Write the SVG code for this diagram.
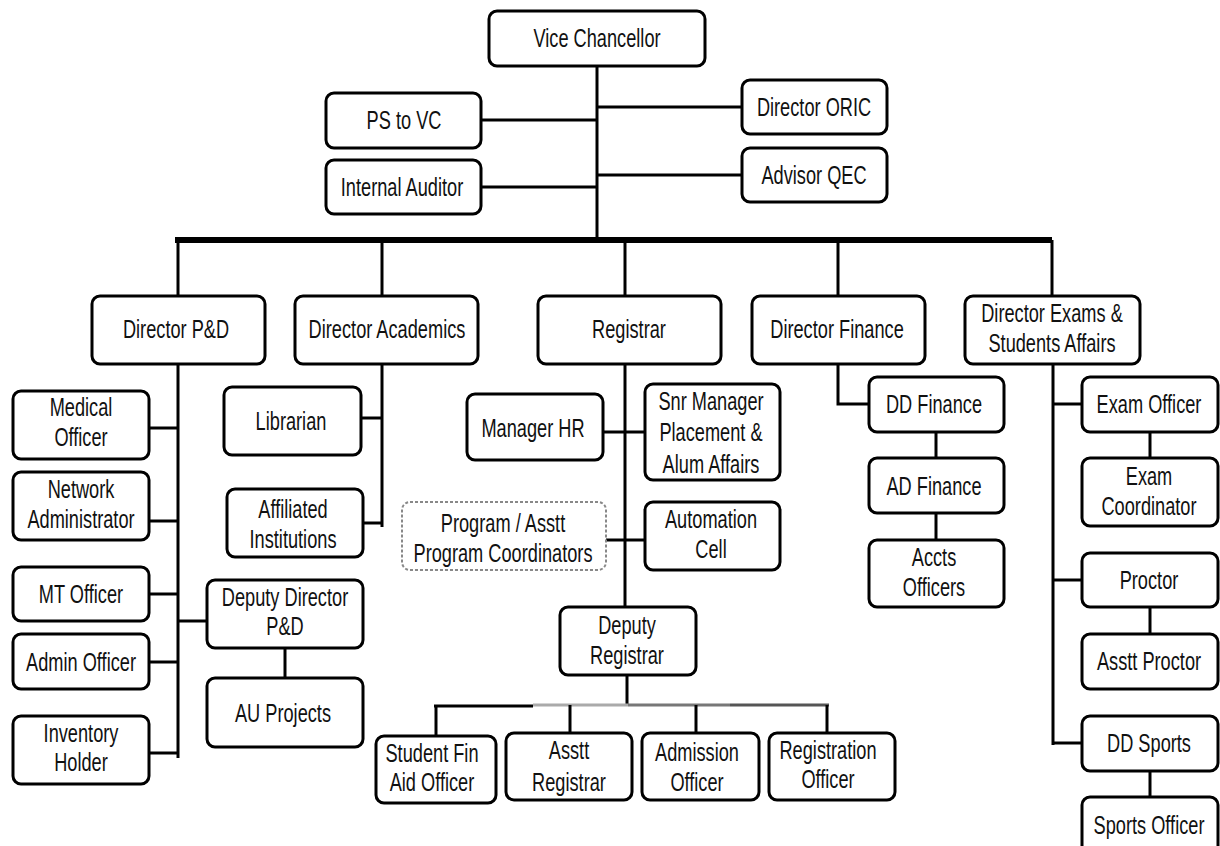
<svg xmlns="http://www.w3.org/2000/svg" width="1220" height="846" viewBox="0 0 1220 846">
<style>
.b{fill:#fff;stroke:#000;stroke-width:3}
.d{fill:#fff;stroke:#888;stroke-width:2;stroke-dasharray:3 2}
text{font-family:"Liberation Sans",Arial,sans-serif;font-size:26px;text-anchor:middle;fill:#111}
.c line,.c path{stroke:#000;stroke-width:3;fill:none}
</style>
<rect width="1220" height="846" fill="#fff"/>
<g class="c" id="connectors">
<line x1="597" y1="66" x2="597" y2="240"/>
<line x1="481" y1="120" x2="597" y2="120"/>
<line x1="481" y1="187" x2="597" y2="187"/>
<line x1="597" y1="107" x2="742" y2="107"/>
<line x1="597" y1="175" x2="742" y2="175"/>
<line x1="175" y1="240" x2="1052" y2="240" style="stroke-width:6"/>
<line x1="178" y1="240" x2="178" y2="296"/>
<line x1="382" y1="240" x2="382" y2="296"/>
<line x1="625" y1="240" x2="625" y2="296"/>
<line x1="838" y1="240" x2="838" y2="296"/>
<line x1="1052" y1="240" x2="1052" y2="296"/>
<line x1="178" y1="364" x2="178" y2="758"/>
<line x1="149" y1="428" x2="178" y2="428"/>
<line x1="149" y1="521" x2="178" y2="521"/>
<line x1="149" y1="594" x2="178" y2="594"/>
<line x1="149" y1="662" x2="178" y2="662"/>
<line x1="149" y1="753" x2="178" y2="753"/>
<line x1="178" y1="621" x2="207" y2="621"/>
<line x1="285" y1="648" x2="285" y2="678"/>
<line x1="382" y1="364" x2="382" y2="527"/>
<line x1="361" y1="418" x2="382" y2="418"/>
<line x1="363" y1="523" x2="382" y2="523"/>
<line x1="625" y1="364" x2="625" y2="607"/>
<line x1="603" y1="432" x2="645" y2="432"/>
<line x1="606" y1="540" x2="645" y2="540"/>
<line x1="627" y1="675" x2="627" y2="705"/>
<line x1="434" y1="706" x2="533" y2="706"/>
<line x1="533" y1="705" x2="628" y2="705" style="stroke:#aaa"/>
<line x1="628" y1="705" x2="730" y2="705" style="stroke:#777"/>
<line x1="730" y1="705" x2="829" y2="705" style="stroke:#555"/>
<line x1="436" y1="705" x2="436" y2="736"/>
<line x1="570" y1="705" x2="570" y2="733"/>
<line x1="696" y1="705" x2="696" y2="733"/>
<line x1="827" y1="705" x2="827" y2="733"/>
<path d="M838 364V404H869"/>
<line x1="936" y1="432" x2="936" y2="458"/>
<line x1="936" y1="513" x2="936" y2="540"/>
<line x1="1053" y1="364" x2="1053" y2="745"/>
<line x1="1053" y1="404" x2="1082" y2="404"/>
<line x1="1053" y1="580" x2="1082" y2="580"/>
<line x1="1053" y1="743" x2="1082" y2="743"/>
<line x1="1150" y1="432" x2="1150" y2="458"/>
<line x1="1150" y1="607" x2="1150" y2="634"/>
<line x1="1150" y1="771" x2="1150" y2="797"/>
</g>
<g id="vc"><rect class="b" x="489" y="11" width="216" height="55" rx="8"/><text transform="matrix(.7 0 0 1 597 47)">Vice Chancellor</text></g>
<g id="ps"><rect class="b" x="326" y="93" width="155" height="55" rx="8"/><text transform="matrix(.7 0 0 1 404 129)">PS to VC</text></g>
<g id="ia"><rect class="b" x="326" y="160" width="155" height="54" rx="8"/><text transform="matrix(.7 0 0 1 402 196)">Internal Auditor</text></g>
<g id="oric"><rect class="b" x="742" y="80" width="145" height="54" rx="8"/><text transform="matrix(.7 0 0 1 814 116)">Director ORIC</text></g>
<g id="qec"><rect class="b" x="742" y="148" width="145" height="54" rx="8"/><text transform="matrix(.7 0 0 1 814 184)">Advisor QEC</text></g>
<g id="dpd"><rect class="b" x="92" y="296" width="173" height="68" rx="8"/><text transform="matrix(.7 0 0 1 176 338)">Director P&amp;D</text></g>
<g id="dac"><rect class="b" x="295" y="296" width="183" height="68" rx="8"/><text transform="matrix(.7 0 0 1 387 338)">Director Academics</text></g>
<g id="reg"><rect class="b" x="538" y="296" width="183" height="68" rx="8"/><text transform="matrix(.7 0 0 1 629 338)">Registrar</text></g>
<g id="dfin"><rect class="b" x="752" y="296" width="173" height="68" rx="8"/><text transform="matrix(.7 0 0 1 837 338)">Director Finance</text></g>
<g id="dex"><rect class="b" x="965" y="296" width="175" height="68" rx="8"/><text transform="matrix(.7 0 0 1 1052 322)">Director Exams &amp;<tspan x="0" dy="30">Students Affairs</tspan></text></g>
<g id="med"><rect class="b" x="13" y="391" width="136" height="68" rx="8"/><text transform="matrix(.7 0 0 1 81 416)">Medical<tspan x="0" dy="30">Officer</tspan></text></g>
<g id="net"><rect class="b" x="13" y="472" width="136" height="68" rx="8"/><text transform="matrix(.7 0 0 1 81 498)">Network<tspan x="0" dy="30">Administrator</tspan></text></g>
<g id="mt"><rect class="b" x="13" y="567" width="136" height="54" rx="8"/><text transform="matrix(.7 0 0 1 81 603)">MT Officer</text></g>
<g id="adm"><rect class="b" x="13" y="634" width="136" height="55" rx="8"/><text transform="matrix(.7 0 0 1 81 671)">Admin Officer</text></g>
<g id="inv"><rect class="b" x="13" y="716" width="136" height="68" rx="8"/><text transform="matrix(.7 0 0 1 81 742)">Inventory<tspan x="0" dy="29">Holder</tspan></text></g>
<g id="lib"><rect class="b" x="224" y="387" width="137" height="68" rx="8"/><text transform="matrix(.7 0 0 1 291 430)">Librarian</text></g>
<g id="aff"><rect class="b" x="227" y="489" width="136" height="68" rx="8"/><text transform="matrix(.7 0 0 1 293 518)">Affiliated<tspan x="0" dy="30">Institutions</tspan></text></g>
<g id="ddpd"><rect class="b" x="207" y="580" width="156" height="68" rx="8"/><text transform="matrix(.7 0 0 1 285 606)">Deputy Director<tspan x="0" dy="29">P&amp;D</tspan></text></g>
<g id="au"><rect class="b" x="207" y="678" width="156" height="69" rx="8"/><text transform="matrix(.7 0 0 1 283 722)">AU Projects</text></g>
<g id="hr"><rect class="b" x="467" y="394" width="136" height="66" rx="8"/><text transform="matrix(.7 0 0 1 533 437)">Manager HR</text></g>
<g id="snr"><rect class="b" x="645" y="384" width="135" height="96" rx="8"/><text transform="matrix(.7 0 0 1 711 410)">Snr Manager<tspan x="0" dy="31">Placement &amp;</tspan><tspan x="0" dy="32">Alum Affairs</tspan></text></g>
<g id="prog"><rect class="d" x="402" y="502" width="204" height="68" rx="8"/><text transform="matrix(.7 0 0 1 503 532)">Program / Asstt<tspan x="0" dy="30">Program Coordinators</tspan></text></g>
<g id="auto"><rect class="b" x="645" y="502" width="135" height="68" rx="8"/><text transform="matrix(.7 0 0 1 711 528)">Automation<tspan x="0" dy="30">Cell</tspan></text></g>
<g id="dreg"><rect class="b" x="560" y="607" width="136" height="68" rx="8"/><text transform="matrix(.7 0 0 1 627 634)">Deputy<tspan x="0" dy="30">Registrar</tspan></text></g>
<g id="sfa"><rect class="b" x="376" y="736" width="120" height="67" rx="8"/><text transform="matrix(.7 0 0 1 432 762)">Student Fin<tspan x="0" dy="29">Aid Officer</tspan></text></g>
<g id="areg"><rect class="b" x="506" y="733" width="126" height="67" rx="8"/><text transform="matrix(.7 0 0 1 569 759)">Asstt<tspan x="0" dy="32">Registrar</tspan></text></g>
<g id="admo"><rect class="b" x="642" y="733" width="117" height="67" rx="8"/><text transform="matrix(.7 0 0 1 697 761)">Admission<tspan x="0" dy="30">Officer</tspan></text></g>
<g id="rego"><rect class="b" x="769" y="733" width="126" height="67" rx="8"/><text transform="matrix(.7 0 0 1 828 759)">Registration<tspan x="0" dy="29">Officer</tspan></text></g>
<g id="ddf"><rect class="b" x="869" y="377" width="135" height="55" rx="8"/><text transform="matrix(.7 0 0 1 934 413)">DD Finance</text></g>
<g id="adf"><rect class="b" x="869" y="458" width="135" height="55" rx="8"/><text transform="matrix(.7 0 0 1 934 495)">AD Finance</text></g>
<g id="acc"><rect class="b" x="869" y="540" width="135" height="67" rx="8"/><text transform="matrix(.7 0 0 1 934 566)">Accts<tspan x="0" dy="30">Officers</tspan></text></g>
<g id="exo"><rect class="b" x="1082" y="377" width="136" height="55" rx="8"/><text transform="matrix(.7 0 0 1 1149 413)">Exam Officer</text></g>
<g id="exc"><rect class="b" x="1082" y="458" width="136" height="68" rx="8"/><text transform="matrix(.7 0 0 1 1149 485)">Exam<tspan x="0" dy="30">Coordinator</tspan></text></g>
<g id="pro"><rect class="b" x="1082" y="553" width="136" height="54" rx="8"/><text transform="matrix(.7 0 0 1 1149 589)">Proctor</text></g>
<g id="apro"><rect class="b" x="1082" y="634" width="136" height="55" rx="8"/><text transform="matrix(.7 0 0 1 1149 670)">Asstt Proctor</text></g>
<g id="dds"><rect class="b" x="1082" y="716" width="136" height="55" rx="8"/><text transform="matrix(.7 0 0 1 1149 752)">DD Sports</text></g>
<g id="spo"><rect class="b" x="1082" y="797" width="136" height="60" rx="8"/><text transform="matrix(.7 0 0 1 1149 834)">Sports Officer</text></g>
</svg>
